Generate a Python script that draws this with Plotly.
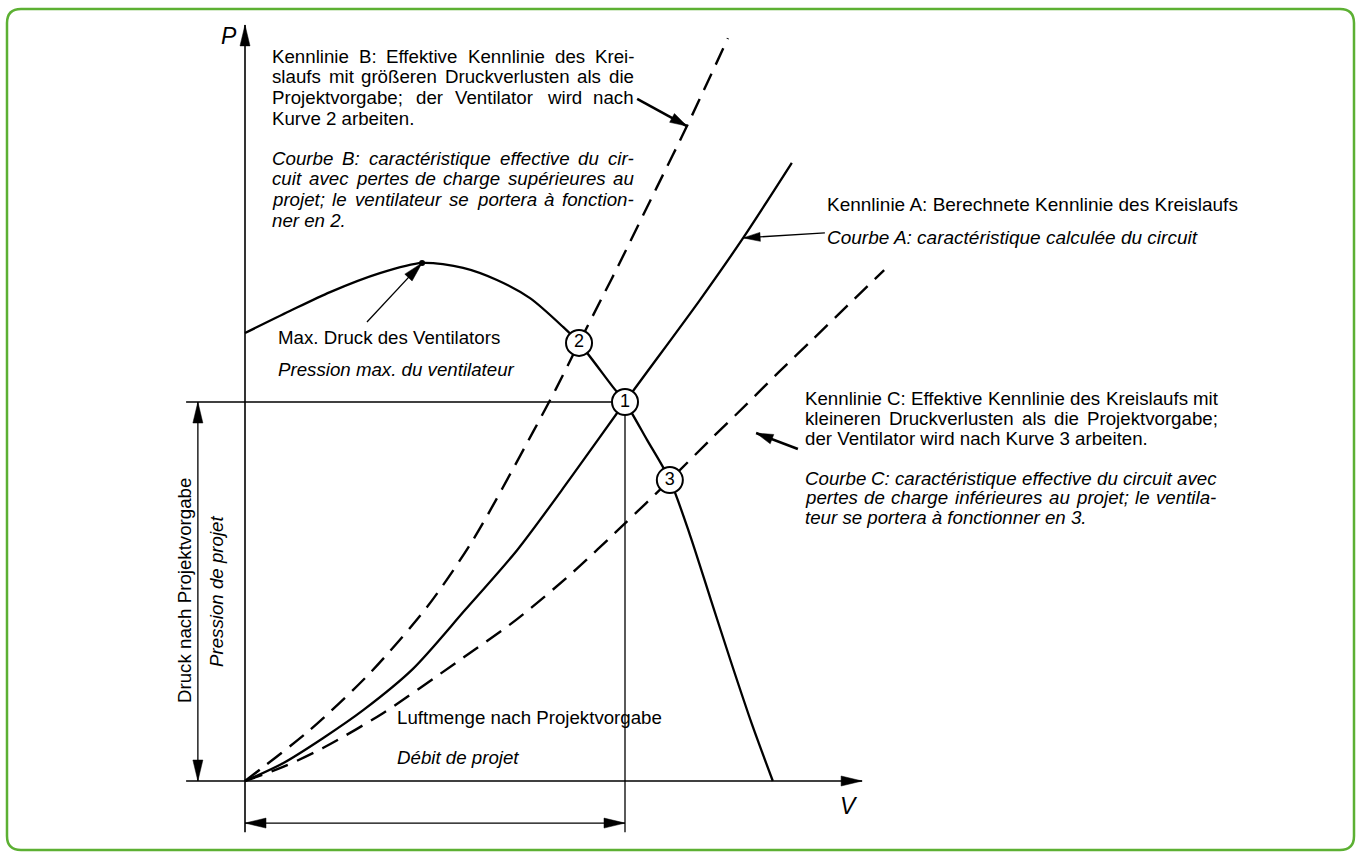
import math
import plotly.graph_objects as go

W, H = 1357, 852

# ---------------- data (V = air flow, P = pressure; design point = 1, 1) ----------------
fan_V = [0.000, 0.118, 0.224, 0.355, 0.466, 0.574, 0.663, 0.750, 0.837, 0.879, 0.968, 1.000,
         1.058, 1.118, 1.171, 1.226, 1.279, 1.334, 1.389]
fan_P = [1.182, 1.240, 1.290, 1.340, 1.367, 1.354, 1.322, 1.274, 1.198, 1.156, 1.040, 1.000,
         0.900, 0.794, 0.649, 0.478, 0.314, 0.150, 0.000]

A_V = [0.000, 0.100, 0.205, 0.311, 0.442, 0.579, 0.716, 0.855, 1.000, 1.197, 1.311, 1.439]
A_P = [0.000, 0.047, 0.113, 0.187, 0.296, 0.451, 0.609, 0.797, 1.000, 1.269, 1.433, 1.631]

B_V = [0.000, 0.171, 0.329, 0.479, 0.600, 0.758, 0.818, 0.879, 0.939, 0.982, 1.084, 1.163, 1.271]
B_P = [0.000, 0.135, 0.285, 0.459, 0.636, 0.921, 1.034, 1.156, 1.274, 1.359, 1.567, 1.728, 1.960]

C_V = [0.000, 0.100, 0.205, 0.363, 0.558, 0.716, 0.863, 0.995, 1.118, 1.232, 1.321, 1.408,
       1.495, 1.584, 1.682]
C_P = [0.000, 0.037, 0.087, 0.179, 0.314, 0.427, 0.551, 0.675, 0.794, 0.908, 0.995, 1.082,
       1.166, 1.253, 1.348]

op_labels = ["1", "2", "3"]
op_V = [1.000, 0.879, 1.118]
op_P = [1.000, 1.156, 0.794]

design_V = 1.0
design_P = 1.0

blockB_de = ["Kennlinie B: Effektive Kennlinie des Krei-",
             "slaufs mit größeren Druckverlusten als die",
             "Projektvorgabe; der Ventilator wird nach",
             "Kurve 2 arbeiten."]
blockB_fr = ["Courbe B: caractéristique effective du cir-",
             "cuit avec pertes de charge supérieures au",
             "projet; le ventilateur se portera à fonction-",
             "ner en 2."]
blockC_de = ["Kennlinie C: Effektive Kennlinie des Kreislaufs mit",
             "kleineren Druckverlusten als die Projektvorgabe;",
             "der Ventilator wird nach Kurve 3 arbeiten."]
blockC_fr = ["Courbe C: caractéristique effective du circuit avec",
             "pertes de charge inférieures au projet; le ventila-",
             "teur se portera à fonctionner en 3."]

# ---------------- layout helpers ----------------
SX, SY = 380.0, 379.0          # pixels per unit of V and of P
X_RANGE = [-245 / SX, 1112 / SX]
Y_RANGE = [-71 / SY, 781 / SY]
INK = "#000000"
FONT = "Liberation Sans, Arial, Helvetica, sans-serif"
FS = 18.7

fig = go.Figure()


def line(xs, ys, width=1.5, dash="solid", shape="linear"):
    fig.add_trace(go.Scatter(
        x=xs, y=ys, mode="lines",
        line=dict(color=INK, width=width, dash=dash, shape=shape, smoothing=0.8),
        hoverinfo="skip", showlegend=False))


def head(tail, tip, L=20, w=10):
    """Filled, elongated arrow head at `tip`, pointing away from `tail`."""
    dx, dy = (tip[0] - tail[0]) * SX, (tip[1] - tail[1]) * SY
    n = math.hypot(dx, dy)
    ux, uy = dx / n, dy / n
    bx, by = -L * ux, -L * uy
    nx, ny = -uy * w / 2, ux * w / 2
    xs = [tip[0], tip[0] + (bx + nx) / SX, tip[0] + (bx - nx) / SX, tip[0]]
    ys = [tip[1], tip[1] + (by + ny) / SY, tip[1] + (by - ny) / SY, tip[1]]
    fig.add_trace(go.Scatter(x=xs, y=ys, mode="lines", fill="toself", fillcolor=INK,
                             line=dict(color=INK, width=0.5),
                             hoverinfo="skip", showlegend=False))


def arrow(tail, tip, width=1.5, L=20, w=10, both=False):
    line([tail[0], tip[0]], [tail[1], tip[1]], width=width)
    head(tail, tip, L, w)
    if both:
        head(tip, tail, L, w)


# axes
P_top, P_bot = 1.995, -0.135
V_left, V_tip = -0.155, 1.624
arrow((0, P_bot), (0, P_top), width=1.6, L=21, w=10)
arrow((V_left, 0), (V_tip, 0), width=1.6, L=21, w=10)

# design guides
line([V_left, design_V], [design_P, design_P], width=1.3)
line([design_V, design_V], [design_P, P_bot], width=1.3)

# dimension arrows
dimV = -0.124
arrow((dimV, 0), (dimV, design_P), width=1.3, L=21, w=10, both=True)
dimP = -0.111
arrow((0, dimP), (design_V, dimP), width=1.3, L=21, w=10, both=True)

# curves
line(fan_V, fan_P, width=2.3, shape="spline")
line(A_V, A_P, width=2.3, shape="spline")
line(B_V, B_P, width=2.4, dash="18px,10px", shape="spline")
line(C_V, C_P, width=2.4, dash="18px,10px", shape="spline")

# max-pressure dot
imax = fan_P.index(max(fan_P))
fig.add_trace(go.Scatter(x=[fan_V[imax]], y=[fan_P[imax]], mode="markers",
                         marker=dict(size=6, color=INK), hoverinfo="skip", showlegend=False))

# pointer arrows (tail -> tip on the curves)
arrow((0.321, 1.211), (fan_V[imax], fan_P[imax]), width=1.3, L=20, w=10)
arrow((1.032, 1.800), (B_V[11], B_P[11]), width=2.6, L=17, w=10)
arrow((1.526, 1.446), (A_V[10], A_P[10]), width=1.3, L=17, w=9)
arrow((1.455, 0.876), (1.345, 0.918), width=2.6, L=17, w=10)

# operating points
fig.add_trace(go.Scatter(
    x=op_V, y=op_P, mode="markers+text", text=op_labels, textposition="middle center",
    marker=dict(size=26, color="white", line=dict(color=INK, width=2)),
    textfont=dict(family=FONT, size=18, color=INK),
    hoverinfo="skip", showlegend=False))

# ---------------- texts ----------------
annotations = []


def txt(text, px, py, italic=False, size=FS, xanchor="left", angle=0):
    if italic:
        text = "<i>" + text + "</i>"
    annotations.append(dict(
        text=text, x=px / W, y=1 - py / H, xref="paper", yref="paper",
        xanchor=xanchor, yanchor="middle", showarrow=False, textangle=angle,
        font=dict(family=FONT, size=size, color=INK), borderpad=0))


# Arial / Liberation Sans advance widths (1/1000 em) for justified text
ADV = {" ": 278, ",": 278, "-": 333, ".": 278, ":": 278, ";": 278,
       "A": 667, "B": 667, "C": 722, "D": 722, "E": 667, "K": 667, "P": 667, "V": 667,
       "a": 556, "b": 556, "c": 500, "d": 556, "e": 556, "f": 278, "g": 556, "h": 556,
       "i": 222, "j": 222, "k": 500, "l": 222, "m": 833, "n": 556, "o": 556, "p": 556,
       "q": 556, "r": 333, "s": 500, "t": 278, "u": 556, "v": 500, "w": 722, "x": 500,
       "y": 500, "z": 500, "ß": 611, "ö": 556, "é": 556, "à": 556, "è": 556}


def wwidth(word, size=FS):
    return sum(ADV.get(ch, 556) for ch in word) * size / 1000.0


def justified(text, left, right, py, italic=False):
    words = text.split(" ")
    widths = [wwidth(w) for w in words]
    gap = (right - left - sum(widths)) / (len(words) - 1)
    x = left
    for w, wd in zip(words, widths):
        txt(w, x, py, italic=italic)
        x += wd + gap


B_L, B_R = 271, 633
for i, t in enumerate(blockB_de):
    if i < len(blockB_de) - 1:
        justified(t, B_L, B_R, 56 + 20.7 * i)
    else:
        txt(t, B_L, 56 + 20.7 * i)
for i, t in enumerate(blockB_fr):
    if i < len(blockB_fr) - 1:
        justified(t, B_L, B_R, 158 + 20.7 * i, italic=True)
    else:
        txt(t, B_L, 158 + 20.7 * i, italic=True)

txt("Kennlinie A: Berechnete Kennlinie des Kreislaufs", 826, 205, size=19)
txt("Courbe A: caractéristique calculée du circuit", 826, 238, italic=True, size=19)

C_L, C_R = 804, 1217
for i, t in enumerate(blockC_de):
    if i < len(blockC_de) - 1:
        justified(t, C_L, C_R, 398 + 20 * i)
    else:
        txt(t, C_L, 398 + 20 * i)
for i, t in enumerate(blockC_fr):
    if i < len(blockC_fr) - 1:
        justified(t, C_L, C_R - 2, 478 + 19.7 * i, italic=True)
    else:
        txt(t, C_L, 478 + 19.7 * i, italic=True)

txt("Max. Druck des Ventilators", 277, 337)
txt("Pression max. du ventilateur", 277, 370, italic=True)
txt("Luftmenge nach Projektvorgabe", 396, 717)
txt("Débit de projet", 396, 757, italic=True)

txt("Druck nach Projektvorgabe", 184, 591, xanchor="center", angle=-90)
txt("Pression de projet", 216, 591, italic=True, xanchor="center", angle=-90)

txt("P", 229, 36, italic=True, size=23, xanchor="center")
txt("V", 849, 806, italic=True, size=23, xanchor="center")

# ---------------- green rounded frame ----------------
x0, y0, x1, y1, r = 7, 9, 1354, 850, 14
def px(v): return v / W
def py(v): return 1 - v / H
frame = (f"M{px(x0 + r)},{py(y0)} L{px(x1 - r)},{py(y0)} Q{px(x1)},{py(y0)} {px(x1)},{py(y0 + r)} "
         f"L{px(x1)},{py(y1 - r)} Q{px(x1)},{py(y1)} {px(x1 - r)},{py(y1)} "
         f"L{px(x0 + r)},{py(y1)} Q{px(x0)},{py(y1)} {px(x0)},{py(y1 - r)} "
         f"L{px(x0)},{py(y0 + r)} Q{px(x0)},{py(y0)} {px(x0 + r)},{py(y0)} Z")

fig.update_layout(
    width=W, height=H, margin=dict(l=0, r=0, t=0, b=0, pad=0),
    paper_bgcolor="white", plot_bgcolor="white",
    xaxis=dict(range=X_RANGE, visible=False, fixedrange=True),
    yaxis=dict(range=Y_RANGE, visible=False, fixedrange=True),
    annotations=annotations,
    shapes=[dict(type="path", path=frame, xref="paper", yref="paper",
                 line=dict(color="#5cb033", width=2.5), layer="above")],
    showlegend=False,
)

fig.write_html("out.html", config={"displayModeBar": False},
               post_script="document.body.style.margin='0px';")
